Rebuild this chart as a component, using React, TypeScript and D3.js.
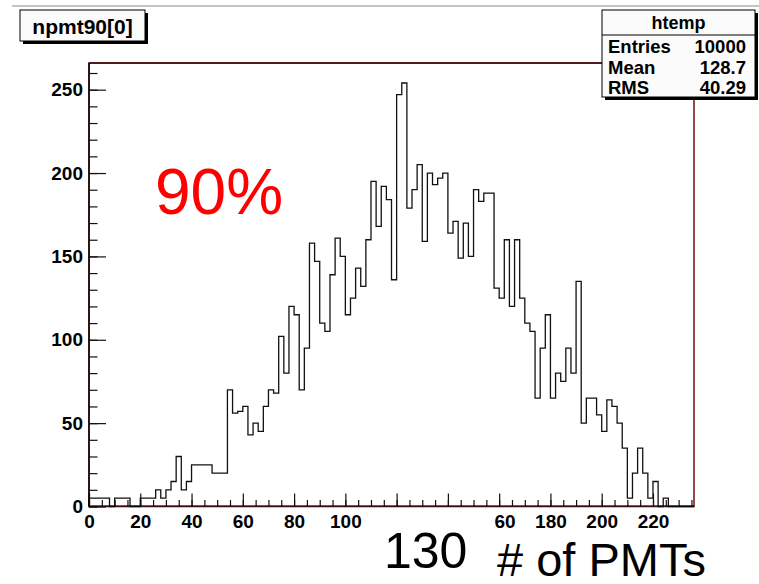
import React, { Component } from "react"
import * as d3 from "d3"

// histogram npmt90[0], 2 units per bin, 0..236
const binWidth = 2
const counts = [
  5, 5, 5, 5, 0, 5, 5, 5, 0, 0,
  5, 5, 5, 10, 5, 10, 15, 30, 10, 15,
  25, 25, 25, 25, 20, 20, 20, 70, 56, 57,
  60, 43, 50, 45, 60, 70, 68, 102, 80, 120,
  115, 70, 95, 158, 147, 110, 105, 139, 161, 150,
  115, 125, 143, 132, 160, 195, 168, 192, 184, 136,
  247, 254, 179, 190, 205, 159, 200, 193, 197, 200,
  164, 171, 149, 170, 150, 190, 183, 188, 188, 131,
  125, 160, 120, 160, 125, 110, 105, 65, 95, 115,
  65, 80, 75, 95, 80, 135, 50, 65, 65, 55,
  45, 64, 60, 50, 35, 5, 20, 35, 20, 5,
  15, 0, 5, 0, 0, 0, 0, 0
]
const xMajorTicks = [0, 20, 40, 60, 80, 100, 120, 140, 160, 180, 200, 220]
// 120 and 140 sit under the "130" label in the original, so they have no text
const xHiddenLabels = [120, 140]
const xMinorTicks = d3.range(0, 236, 5)
const yMajorTicks = [0, 50, 100, 150, 200, 250]
const yMinorTicks = d3.range(0, 266, 10)

const statsTitle = "htemp"
const statsRows = [["Entries", "10000"], ["Mean", "128.7"], ["RMS", "40.29"]]
const histTitle = "npmt90[0]"

const FONT = "'Liberation Sans', Arial, Helvetica, sans-serif"

class App extends Component {
  svgRef = React.createRef<SVGSVGElement>()

  drawChart() {
    const svg = d3.select(this.svgRef.current)
    svg.selectAll("*").remove()

    const width = 759
    const height = 584
    const left = 89, right = 694, top = 63, bottom = 506.5

    const x = d3.scaleLinear().domain([0, 236]).range([left, right])
    const y = d3.scaleLinear().domain([0, 266]).range([bottom, top])

    svg.append("rect").attr("width", width).attr("height", height).attr("fill", "white")

    // thin grey line at the top of the canvas
    svg.append("line").attr("x1", 12).attr("x2", width).attr("y1", 6).attr("y2", 6)
      .attr("stroke", "#c4c4c4").attr("stroke-width", 2)

    // frame
    svg.append("rect").attr("x", left).attr("y", top)
      .attr("width", right - left).attr("height", bottom - top)
      .attr("fill", "none").attr("stroke", "#7d1c1c").attr("stroke-width", 1.6)
    svg.append("line").attr("x1", left).attr("x2", right + 1).attr("y1", top).attr("y2", top)
      .attr("stroke", "#4e1e1e").attr("stroke-width", 1.8)

    // histogram outline
    let d = `M${x(0)},${y(0)}`
    counts.forEach((c, i) => {
      d += `L${x(i * binWidth)},${y(c)}L${x((i + 1) * binWidth)},${y(c)}`
    })
    d += `L${x(counts.length * binWidth)},${y(0)}`
    svg.append("path").attr("d", d).attr("fill", "none")
      .attr("stroke", "#111").attr("stroke-width", 1.3)

    // x axis
    const xMinor = svg.append("g").attr("transform", `translate(0,${bottom})`)
      .call(d3.axisBottom(x).tickValues(xMinorTicks).tickSizeInner(-6.5).tickSizeOuter(0).tickFormat(() => ""))
    const xMajor = svg.append("g").attr("transform", `translate(0,${bottom})`)
      .call(d3.axisBottom(x).tickValues(xMajorTicks).tickSizeInner(-13).tickSizeOuter(0).tickPadding(8)
        .tickFormat(v => xHiddenLabels.includes(+v) ? "" : d3.format("d")(v)))

    // y axis
    const yMinor = svg.append("g").attr("transform", `translate(${left},0)`)
      .call(d3.axisLeft(y).tickValues(yMinorTicks).tickSizeInner(-8.5).tickSizeOuter(0).tickFormat(() => ""))
    const yMajor = svg.append("g").attr("transform", `translate(${left},0)`)
      .call(d3.axisLeft(y).tickValues(yMajorTicks).tickSizeInner(-17).tickSizeOuter(0).tickPadding(6).tickFormat(d3.format("d")))

    ;[xMinor, xMajor, yMinor, yMajor].forEach(g => {
      g.select(".domain").remove()
      g.selectAll("line").attr("stroke", "#111").attr("stroke-width", 1.2)
      g.selectAll("text").attr("font-family", FONT).attr("font-size", 19)
        .attr("font-weight", "bold").attr("fill", "black")
      g.selectAll("text").filter(function () { return !this.textContent }).remove()
    })

    svg.append("line").attr("x1", left).attr("x2", right).attr("y1", bottom - 0.5).attr("y2", bottom - 0.5)
      .attr("stroke", "black").attr("stroke-width", 1.2)
    svg.append("line").attr("x1", left).attr("x2", left).attr("y1", top).attr("y2", bottom)
      .attr("stroke", "black").attr("stroke-width", 1.4)

    // "90%" annotation
    svg.append("text").attr("x", 155).attr("y", 214)
      .attr("font-family", FONT).attr("font-size", 64).attr("fill", "#ff0000").text("90%")

    // white box with "130" that hides the start of the 160 label
    svg.append("rect").attr("x", 362).attr("y", 510).attr("width", 132).attr("height", 74).attr("fill", "white")
    svg.append("text").attr("x", 384).attr("y", 568)
      .attr("font-family", FONT).attr("font-size", 50).attr("fill", "black").text("130")
    svg.append("text").attr("x", 497).attr("y", 576)
      .attr("font-family", FONT).attr("font-size", 47).attr("fill", "black").text("# of PMTs")

    // title box
    svg.append("rect").attr("x", 23).attr("y", 13).attr("width", 125).attr("height", 31).attr("fill", "black")
    svg.append("rect").attr("x", 20).attr("y", 10).attr("width", 125).attr("height", 31)
      .attr("fill", "#fbfbfb").attr("stroke", "black").attr("stroke-width", 1)
    svg.append("text").attr("x", 82.5).attr("y", 33.5).attr("text-anchor", "middle")
      .attr("font-family", FONT).attr("font-size", 21).attr("font-weight", "bold").text(histTitle)

    // stats box
    const sx = 602, sy = 10, sw = 153, sh = 87
    svg.append("rect").attr("x", sx + 3).attr("y", sy + 3).attr("width", sw).attr("height", sh).attr("fill", "black")
    svg.append("rect").attr("x", sx).attr("y", sy).attr("width", sw).attr("height", sh)
      .attr("fill", "#fbfbfb").attr("stroke", "black").attr("stroke-width", 1)
    svg.append("line").attr("x1", sx).attr("x2", sx + sw).attr("y1", 35).attr("y2", 35)
      .attr("stroke", "black").attr("stroke-width", 1)
    svg.append("text").attr("x", sx + sw / 2).attr("y", 29).attr("text-anchor", "middle")
      .attr("font-family", FONT).attr("font-size", 18).attr("font-weight", "bold").text(statsTitle)
    statsRows.forEach((r, i) => {
      const by = 53 + i * 20.5
      svg.append("text").attr("x", 608).attr("y", by)
        .attr("font-family", FONT).attr("font-size", 18.5).attr("font-weight", "bold").text(r[0])
      svg.append("text").attr("x", 746).attr("y", by).attr("text-anchor", "end")
        .attr("font-family", FONT).attr("font-size", 18.5).attr("font-weight", "bold").text(r[1])
    })
  }

  componentDidMount() {
    this.drawChart()
  }

  componentDidUpdate() {
    this.drawChart()
  }

  render() {
    return (
      <svg ref={this.svgRef} width={759} height={584}
        style={{ position: "absolute", left: 0, top: 0, display: "block" }} />
    )
  }
}

export default App
